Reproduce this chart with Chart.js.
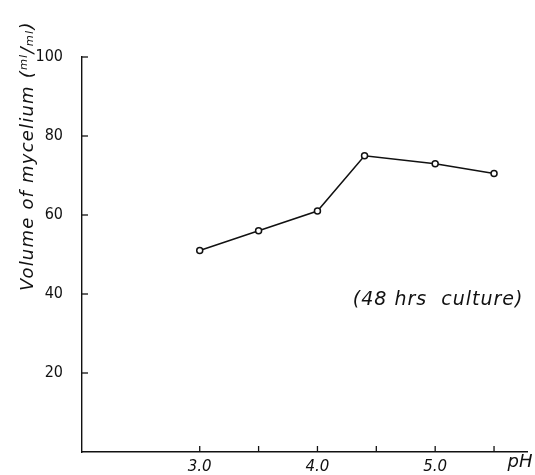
<!DOCTYPE html>
<html>
<head>
<meta charset="utf-8">
<script src="https://cdn.jsdelivr.net/npm/chart.js@4/dist/chart.umd.min.js"></script>
<style>
  html, body { margin: 0; padding: 0; background: #fff; }
  #wrap { width: 535px; height: 475px; }
</style>
</head>
<body>
<div id="wrap"><canvas id="c" width="535" height="475"></canvas></div>
<script>
// values
const phValues = [3.0, 3.5, 4.0, 4.4, 5.0, 5.5];
const volume = [51, 56, 61, 75, 73, 70.5];
const xTicks = [3.0, 3.5, 4.0, 4.5, 5.0, 5.5];
const xLabelled = [3.0, 4.0, 5.0];
const yTicks = [20, 40, 60, 80, 100];

const yTitle = 'Volume of mycelium (\u1d50\u02e1/\u2098\u2097)';
const note = '(48 hrs  culture)';

// small inward tick marks, the x unit "pH" and the free text
const sketch = {
  id: 'sketch',
  afterDraw(chart) {
    const ctx = chart.ctx;
    const x = chart.scales.x, y = chart.scales.y;
    const area = chart.chartArea;
    ctx.save();
    ctx.strokeStyle = '#111';
    ctx.lineWidth = 1.3;
    xTicks.forEach(v => {
      const px = x.getPixelForValue(v);
      ctx.beginPath();
      ctx.moveTo(px, area.bottom);
      ctx.lineTo(px, area.bottom - 6);
      ctx.stroke();
    });
    yTicks.forEach(v => {
      const py = y.getPixelForValue(v);
      ctx.beginPath();
      ctx.moveTo(area.left, py);
      ctx.lineTo(area.left + 6, py);
      ctx.stroke();
    });

    ctx.fillStyle = '#111';
    ctx.font = 'italic 18px "DejaVu Sans"';
    ctx.textAlign = 'center';
    ctx.textBaseline = 'middle';
    ctx.fillText('pH', x.getPixelForValue(5.72), area.bottom + 10);

    ctx.font = 'italic 19px "DejaVu Sans"';
    ctx.letterSpacing = '1px';
    ctx.textAlign = 'left';
    ctx.fillText(note, x.getPixelForValue(4.3), y.getPixelForValue(38.5));

    ctx.translate(28, 291);
    ctx.rotate(-Math.PI / 2);
    ctx.font = 'italic 18px "DejaVu Sans"';
    ctx.letterSpacing = '1.2px';
    ctx.textAlign = 'left';
    ctx.fillText(yTitle, 0, 0);
    ctx.restore();
  }
};

new Chart(document.getElementById('c'), {
  type: 'line',
  data: {
    datasets: [{
      data: phValues.map((p, i) => ({ x: p, y: volume[i] })),
      borderColor: '#111',
      borderWidth: 1.5,
      pointRadius: 3,
      pointBackgroundColor: '#fff',
      pointBorderColor: '#111',
      pointBorderWidth: 1.5,
      tension: 0
    }]
  },
  options: {
    responsive: false,
    animation: false,
    events: [],
    layout: { padding: { left: 0, right: 8, top: 57, bottom: 0 } },
    plugins: { legend: { display: false }, tooltip: { enabled: false } },
    scales: {
      x: {
        type: 'linear',
        min: 2.0,
        max: 5.78,
        afterBuildTicks: s => { s.ticks = xTicks.map(v => ({ value: v })); },
        afterFit: s => { s.height = 23; },
        grid: { display: false, drawTicks: false },
        border: { display: true, color: '#111', width: 1.4 },
        ticks: {
          padding: 6,
          color: '#111',
          font: { family: 'DejaVu Sans', size: 15, style: 'italic' },
          maxRotation: 0,
          autoSkip: false,
          callback: v => xLabelled.includes(v) ? v.toFixed(1) : ''
        }
      },
      y: {
        min: 0,
        max: 100,
        afterBuildTicks: s => { s.ticks = yTicks.map(v => ({ value: v })); },
        afterFit: s => { s.width = 82; s.paddingTop = 0; s.paddingBottom = 0; },
        grid: { display: false, drawTicks: false },
        border: { display: true, color: '#111', width: 1.4 },
        ticks: {
          padding: 19,
          color: '#111',
          font: { family: 'DejaVu Sans Condensed, DejaVu Sans', size: 16 },
          callback: v => String(v)
        }
      }
    }
  },
  plugins: [sketch]
});
</script>
</body>
</html>
